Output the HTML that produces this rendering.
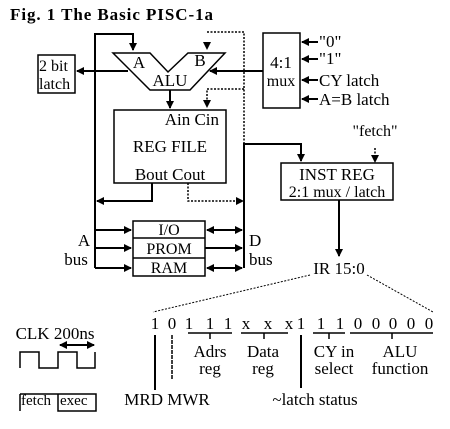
<!DOCTYPE html>
<html><head><meta charset="utf-8"><style>
html,body{margin:0;padding:0;background:#fff;}
svg{display:block;}
text{font-family:"Liberation Serif",serif;fill:#000;}
</style></head><body>
<svg width="450" height="429" viewBox="0 0 450 429" xmlns="http://www.w3.org/2000/svg">
<defs>
<marker id="ar" markerWidth="8" markerHeight="8" refX="7" refY="4" orient="auto" markerUnits="userSpaceOnUse"><path d="M0,0 L8,4 L0,8 z" fill="#000"/></marker>
<marker id="al" markerWidth="8" markerHeight="8" refX="1" refY="4" orient="auto" markerUnits="userSpaceOnUse"><path d="M8,0 L0,4 L8,8 z" fill="#000"/></marker>
</defs>
<text x="10" y="20" font-size="17" font-weight="bold" textLength="203">Fig. 1  The Basic PISC-1a</text>
<g stroke="#000" fill="none" stroke-width="2">
<path d="M95,268 V34 H133 V50" marker-end="url(#ar)"/>
<path d="M113,53 H150 L168,72 L188,53 H225 L190,90 H150 Z" stroke-width="1.5"/>
<rect x="38" y="55" width="37" height="38" stroke-width="1.5"/>
<path d="M128,71 H77" marker-end="url(#ar)"/>
<rect x="263" y="33" width="37" height="75" stroke-width="1.5"/>
<path d="M263,71 H210" marker-end="url(#ar)"/>
<path d="M318,42 H302" marker-end="url(#ar)"/>
<path d="M318,59 H302" marker-end="url(#ar)"/>
<path d="M318,80 H302" marker-end="url(#ar)"/>
<path d="M318,99 H302" marker-end="url(#ar)"/>
<rect x="114" y="110" width="112" height="73" stroke-width="1.5"/>
<path d="M170,90 V108" marker-end="url(#ar)"/>
<path d="M152,183 V201 H97" marker-end="url(#ar)"/>
<path d="M244,268 V144 H301 V161" marker-end="url(#ar)"/>
<rect x="281" y="163" width="112" height="37" stroke-width="1.5"/>
<path d="M339,200 V256" marker-end="url(#ar)"/>
<rect x="133" y="221" width="72" height="55" stroke-width="1.5"/>
<path d="M133,238 H205 M133,258 H205" stroke-width="1.5"/>
<path d="M95,230 H131" marker-end="url(#ar)"/>
<path d="M95,248 H131" marker-end="url(#ar)"/>
<path d="M95,268 H131" marker-end="url(#ar)"/>
<path d="M207,230 H242" marker-start="url(#al)" marker-end="url(#ar)"/>
<path d="M205,248 H242" marker-end="url(#ar)"/>
<path d="M207,268 H242" marker-start="url(#al)" marker-end="url(#ar)"/>
</g>
<g stroke="#000" fill="none" stroke-width="1.5" stroke-dasharray="2,1.5">
<path d="M207,32 H244 V200"/>
<path d="M244,89 H207 V106"/>
<path d="M188,183 V201 H240"/>
<path d="M375,148 V160"/>
<path d="M310,275 L153,312" stroke-width="1"/>
<path d="M367,275 L433,312" stroke-width="1"/>
</g>
<g fill="#000">
<path d="M203,42 L211,42 L207,50 Z"/>
<path d="M203,100 L211,100 L207,108 Z"/>
<path d="M236,197 L244,201 L236,205 Z"/>
<path d="M371,155 L379,155 L375,163 Z"/>
</g>
<g font-size="17">
<text x="139" y="68" text-anchor="middle">A</text>
<text x="200" y="66" text-anchor="middle">B</text>
<text x="170" y="86" text-anchor="middle">ALU</text>
<text x="39" y="71" font-size="16">2 bit</text>
<text x="39" y="89" font-size="16">latch</text>
<text x="281" y="68" text-anchor="middle">4:1</text>
<text x="281" y="86" text-anchor="middle" font-size="16">mux</text>
<text x="319" y="47">"0"</text>
<text x="319" y="64">"1"</text>
<text x="319" y="86">CY latch</text>
<text x="319" y="105">A=B latch</text>
<text x="219" y="125" text-anchor="end">Ain  Cin</text>
<text x="170" y="152" text-anchor="middle">REG FILE</text>
<text x="170" y="180" text-anchor="middle">Bout  Cout</text>
<text x="375" y="136" text-anchor="middle" font-size="16">"fetch"</text>
<text x="337" y="180" text-anchor="middle">INST REG</text>
<text x="337" y="197" text-anchor="middle" font-size="16">2:1 mux / latch</text>
<text x="169" y="235" text-anchor="middle" font-size="16">I/O</text>
<text x="169" y="254" text-anchor="middle" font-size="16">PROM</text>
<text x="169" y="273" text-anchor="middle" font-size="16">RAM</text>
<text x="84" y="246" text-anchor="middle">A</text>
<text x="76" y="265" text-anchor="middle">bus</text>
<text x="249" y="246">D</text>
<text x="249" y="265">bus</text>
<text x="339" y="274" text-anchor="middle">IR 15:0</text>
<g text-anchor="middle">
<text x="155" y="329">1</text><text x="172" y="329">0</text>
<text x="189" y="329">1</text><text x="210" y="329">1</text><text x="228" y="329">1</text>
<text x="246" y="329">x</text><text x="268" y="329">x</text><text x="289" y="329">x</text>
<text x="301" y="329">1</text><text x="321" y="329">1</text><text x="340" y="329">1</text>
<text x="358" y="329">0</text><text x="376" y="329">0</text><text x="393" y="329">0</text><text x="411" y="329">0</text><text x="429" y="329">0</text>
<text x="210" y="357">Adrs</text>
<text x="210" y="374">reg</text>
<text x="263" y="357">Data</text>
<text x="263" y="374">reg</text>
<text x="334" y="357">CY in</text>
<text x="334" y="374">select</text>
<text x="400" y="357">ALU</text>
<text x="400" y="374">function</text>
<text x="167" y="405">MRD MWR</text>
<text x="315" y="405">~latch status</text>
<text x="55" y="339">CLK 200ns</text>
</g>
<text x="21" y="405" font-size="15">fetch</text>
<text x="60" y="405" font-size="15">exec</text>
</g>
<g stroke="#000" fill="none" stroke-width="1.5">
<path d="M188,333 H232 M210,333 V339"/>
<path d="M241,333 H288 M264,333 V339"/>
<path d="M313,333 H345 M329,333 V339"/>
<path d="M350,333 H433 M392,333 V339"/>
<path d="M155,335 V390" stroke-width="2"/>
<path d="M172,335 V380" stroke-dasharray="4,1"/>
<path d="M301,335 V388" stroke-width="2"/>
<path d="M60,345 H94" marker-start="url(#al)" marker-end="url(#ar)" stroke-width="2"/>
<path d="M20,368 V352 H39 V368 H58 V352 H77 V368 H95 V352"/>
<path d="M20,394 H58 V411 H96 V394 H58 M20,394 V411"/>
</g>
</svg>
</body></html>
